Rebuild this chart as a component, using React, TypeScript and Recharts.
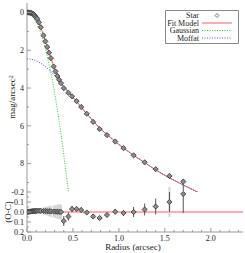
import React from 'react';
import {
  ComposedChart,
  Line,
  Scatter,
  XAxis,
  YAxis,
  ReferenceLine,
  ErrorBar,
  Legend,
  Label,
} from 'recharts';

// star profile: radius (arcsec) and surface brightness (mag/arcsec^2)
const starRadius = [
  0, 0.01, 0.02, 0.03, 0.04, 0.05, 0.06, 0.07, 0.08, 0.09, 0.1, 0.11,
  0.13, 0.15, 0.18, 0.2, 0.22, 0.24, 0.26, 0.29, 0.31, 0.33, 0.35, 0.37,
  0.4, 0.45, 0.49, 0.54, 0.59, 0.65, 0.72, 0.79, 0.87, 0.96, 1.05, 1.16,
  1.28, 1.4, 1.55, 1.7,
];
const starMag = [
  0.0, 0.0, 0.01, 0.01, 0.02, 0.04, 0.06, 0.09, 0.14, 0.2, 0.27, 0.34,
  0.52, 0.78, 1.22, 1.53, 1.83, 2.13, 2.42, 2.86, 3.12, 3.36, 3.56, 3.74,
  4.01, 4.25, 4.44, 4.69, 5.0, 5.36, 5.79, 6.17, 6.49, 6.83, 7.18, 7.56,
  7.93, 8.29, 8.65, 8.95,
];
// observed minus computed, same radii as the star points
const ocResidual = [
  0.0, 0.0, -0.003, -0.005, -0.005, -0.006, -0.008, -0.008, -0.01, -0.01, -0.01, -0.012,
  -0.012, -0.012, -0.01, -0.01, -0.008, -0.008, -0.006, -0.005, -0.004, -0.003, -0.002, 0.0,
  0.09, 0.045, -0.03, -0.03, -0.02, 0.005, 0.045, 0.06, 0.03, -0.003, 0.01, 0.0,
  -0.025, -0.055, -0.1, -0.18,
];
const ocError = [
  0.002, 0.002, 0.002, 0.003, 0.003, 0.003, 0.004, 0.004, 0.005, 0.005, 0.006, 0.006,
  0.007, 0.008, 0.009, 0.01, 0.01, 0.011, 0.012, 0.013, 0.014, 0.015, 0.016, 0.018,
  0.05, 0.04, 0.03, 0.025, 0.025, 0.02, 0.02, 0.02, 0.02, 0.025, 0.03, 0.05,
  0.06, 0.08, 0.1, 0.19,
];
const ocErrorWide = [
  0, 0, 0, 0, 0, 0, 0, 0, 0, 0.01, 0.015, 0.02,
  0.025, 0.03, 0.035, 0.04, 0.045, 0.05, 0.055, 0.06, 0.065, 0.07, 0.075, 0.075,
  0, 0, 0, 0, 0, 0, 0, 0, 0, 0, 0, 0,
  0, 0, 0.15, 0,
];

// fitted model and its two components
const fitRadius = [
  0, 0.04, 0.08, 0.12, 0.16, 0.2, 0.24, 0.28, 0.32, 0.36, 0.4, 0.45, 0.5, 0.55,
  0.6, 0.7, 0.8, 0.9, 1.0, 1.1, 1.2, 1.3, 1.4, 1.5, 1.6, 1.7, 1.8, 1.9,
];
const fitMag = [
  0.0, 0.02, 0.14, 0.43, 0.93, 1.53, 2.12, 2.71, 3.24, 3.64, 3.92, 4.2, 4.48, 4.77,
  5.08, 5.63, 6.16, 6.58, 6.99, 7.35, 7.69, 8.01, 8.33, 8.62, 8.88, 9.13, 9.37, 9.61,
];
const gaussRadius = [0, 0.05, 0.1, 0.15, 0.2, 0.25, 0.3, 0.35, 0.4, 0.45, 0.48];
const gaussMag = [0.05, 0.17, 0.52, 1.1, 1.92, 2.97, 4.25, 5.77, 7.52, 9.5, 10.8];
const moffatRadius = [
  0, 0.05, 0.1, 0.15, 0.2, 0.25, 0.3, 0.35, 0.4, 0.45, 0.5, 0.55, 0.6, 0.7, 0.8,
  0.9, 1.0, 1.1, 1.2, 1.3, 1.4, 1.5, 1.6, 1.7, 1.8, 1.9,
];
const moffatMag = [
  2.45, 2.48, 2.56, 2.69, 2.87, 3.08, 3.33, 3.61, 3.95, 4.21, 4.49, 4.78, 5.08, 5.63, 6.16,
  6.58, 6.99, 7.35, 7.69, 8.01, 8.33, 8.62, 8.88, 9.13, 9.37, 9.61,
];

const radiusTicks = [
  0, 0.1, 0.2, 0.3, 0.4, 0.5, 0.6, 0.7, 0.8, 0.9, 1.0, 1.1, 1.2, 1.3, 1.4, 1.5, 1.6,
  1.7, 1.8, 1.9, 2.0, 2.1, 2.2, 2.3,
];
const magTicks = [0, 1, 2, 3, 4, 5, 6, 7, 8, 9];
const ocTicks = [-0.2, -0.15, -0.1, -0.05, 0, 0.05, 0.1, 0.15, 0.2];

const starRows = starRadius.map((r, i) => ({ r, mag: starMag[i] }));
const ocRows = starRadius.map((r, i) => ({
  r,
  oc: ocResidual[i],
  err: ocError[i],
  errWide: ocErrorWide[i],
}));
const fitRows = fitRadius.map((r, i) => ({ r, mag: fitMag[i] }));
const gaussRows = gaussRadius.map((r, i) => ({ r, mag: gaussMag[i] }));
const moffatRows = moffatRadius.map((r, i) => ({ r, mag: moffatMag[i] }));

const FONT = "'Liberation Serif', 'Times New Roman', serif";
const FRAME = '#999';
const INK = '#222';
const RED = '#ff5a5a';
const GREEN = '#22cc22';
const BLUE = '#4646ff';
const DOT = '1 1.5';

const X_DOMAIN = [0, 2.35];
const MAG_DOMAIN = [-0.5, 9.5];
const OC_DOMAIN = [-0.2, 0.2];

// the residual panel svg starts a little above its plot so the top tick label is not cut
const RES_PAD = 8;

type Side = 'left' | 'right' | 'top' | 'bottom';

const near = (v: number, step: number) => Math.abs(v / step - Math.round(v / step)) < 1e-6;

// inward tick marks, long on labelled values
const makeTick =
  (side: Side, isMajor: (v: number) => boolean, fmt?: (v: number) => string) =>
  (props: any) => {
    const { x, y, payload } = props;
    const v = payload.value;
    const len = isMajor(v) ? 4 : 2;
    const end =
      side === 'left' ? [x + len, y] : side === 'right' ? [x - len, y] : side === 'top' ? [x, y + len] : [x, y - len];
    let text = null;
    if (fmt && isMajor(v)) {
      text =
        side === 'left' ? (
          <text x={x - 3} y={y} dy="0.35em" textAnchor="end" fontSize={8} fontFamily={FONT} fill={INK}>
            {fmt(v)}
          </text>
        ) : (
          <text x={x} y={y + 9} textAnchor="middle" fontSize={8} fontFamily={FONT} fill={INK}>
            {fmt(v)}
          </text>
        );
    }
    return (
      <g>
        <line x1={x} y1={y} x2={end[0]} y2={end[1]} stroke={FRAME} strokeWidth={1} />
        {text}
      </g>
    );
  };

const isHalf = (v: number) => near(v, 0.5);
const isEven = (v: number) => near(v, 2);
const isTenth = (v: number) => near(v, 0.1);

const Diamond = ({ cx, cy, r = 2.6, fill = '#8c8c8c', stroke = '#333' }: any) => (
  <path
    d={`M${cx},${cy - r} L${cx + r},${cy} L${cx},${cy + r} L${cx - r},${cy} Z`}
    fill={fill}
    stroke={stroke}
    strokeWidth={0.8}
  />
);

const legendItems = [
  { name: 'Star', color: '#555', marker: true, dash: undefined },
  { name: 'Fit Model', color: RED, marker: false, dash: undefined },
  { name: 'Gaussian', color: GREEN, marker: false, dash: DOT },
  { name: 'Moffat', color: BLUE, marker: false, dash: DOT },
];

const LegendBox = () => (
  <svg width={74} height={34} style={{ display: 'block', overflow: 'visible' }}>
    <path d="M0.5,0.5 H73.5 V33.5 H0.5 Z" fill="#fff" stroke="#888" strokeWidth={1} />
    {legendItems.map((it, i) => {
      const cy = 5.5 + i * 7.5;
      return (
        <g key={it.name}>
          <text x={34} y={cy} dy="0.33em" textAnchor="end" fontSize={8} fontFamily={FONT} fill={INK}>
            {it.name}
          </text>
          {it.marker ? (
            <Diamond cx={52} cy={cy} r={2} fill="none" stroke={it.color} />
          ) : (
            <line x1={37} x2={67} y1={cy} y2={cy} stroke={it.color} strokeWidth={1} strokeDasharray={it.dash} />
          )}
        </g>
      );
    })}
  </svg>
);

// rotated axis title, centred on the given point inside the chart
const RotatedTitle = ({ cx, cy, children }: any) => (
  <text
    x={cx}
    y={cy}
    dy="0.35em"
    transform={`rotate(-90, ${cx}, ${cy})`}
    textAnchor="middle"
    fontSize={9}
    fontFamily={FONT}
    fill={INK}
  >
    {children}
  </text>
);

const axisCommon = {
  tickLine: false,
  tickSize: 0,
  tickMargin: 0,
  interval: 0 as const,
  stroke: FRAME,
  allowDataOverflow: true,
};

const ProfilePanel = () => (
  <ComposedChart width={245} height={192} margin={{ top: 3, right: 2, bottom: 0, left: 0 }}>
    <XAxis
      {...axisCommon}
      dataKey="r"
      type="number"
      domain={X_DOMAIN}
      ticks={radiusTicks}
      height={0}
      tick={makeTick('bottom', isHalf)}
    />
    <XAxis
      {...axisCommon}
      xAxisId="top"
      orientation="top"
      type="number"
      domain={X_DOMAIN}
      ticks={radiusTicks}
      height={0}
      tick={makeTick('top', isHalf)}
    />
    <YAxis
      {...axisCommon}
      type="number"
      reversed
      domain={MAG_DOMAIN}
      ticks={magTicks}
      width={27}
      tick={makeTick('left', isEven, (v) => String(v))}
    >
      <Label
        content={() => (
          <RotatedTitle cx={12} cy={97}>
            mag/arcsec
            <tspan dy="-0.4em" fontSize={6}>
              2
            </tspan>
          </RotatedTitle>
        )}
      />
    </YAxis>
    <YAxis
      {...axisCommon}
      yAxisId="right"
      orientation="right"
      type="number"
      reversed
      domain={MAG_DOMAIN}
      ticks={magTicks}
      width={0}
      tick={makeTick('right', isEven)}
    />
    <Scatter
      name="Star"
      data={starRows}
      dataKey="mag"
      isAnimationActive={false}
      shape={(p: any) => <Diamond cx={p.cx} cy={p.cy} />}
    />
    <Line
      name="Fit Model"
      data={fitRows}
      dataKey="mag"
      type="monotone"
      stroke={RED}
      strokeWidth={1}
      dot={false}
      isAnimationActive={false}
    />
    <Line
      name="Gaussian"
      data={gaussRows}
      dataKey="mag"
      type="monotone"
      stroke={GREEN}
      strokeWidth={1}
      strokeDasharray={DOT}
      dot={false}
      isAnimationActive={false}
    />
    <Line
      name="Moffat"
      data={moffatRows}
      dataKey="mag"
      type="monotone"
      stroke={BLUE}
      strokeWidth={1}
      strokeDasharray={DOT}
      dot={false}
      isAnimationActive={false}
    />
    <Legend
      layout="vertical"
      align="center"
      verticalAlign="middle"
      wrapperStyle={{ left: 165, top: 10, width: 74, height: 34, zIndex: 5 }}
      content={() => <LegendBox />}
    />
  </ComposedChart>
);

const ResidualPanel = () => (
  <ComposedChart width={245} height={61 + RES_PAD} margin={{ top: RES_PAD, right: 2, bottom: 0, left: 0 }}>
    <XAxis
      {...axisCommon}
      dataKey="r"
      type="number"
      domain={X_DOMAIN}
      ticks={radiusTicks}
      height={21}
      tick={makeTick('bottom', isHalf, (v) => v.toFixed(1))}
    >
      <Label
        content={() => (
          <text x={133} y={RES_PAD + 58} textAnchor="middle" fontSize={9} fontFamily={FONT} fill={INK}>
            Radius (arcsec)
          </text>
        )}
      />
    </XAxis>
    <XAxis
      {...axisCommon}
      xAxisId="top"
      orientation="top"
      type="number"
      domain={X_DOMAIN}
      ticks={radiusTicks}
      height={0}
      tick={makeTick('top', isHalf)}
    />
    <YAxis
      {...axisCommon}
      type="number"
      reversed
      domain={OC_DOMAIN}
      ticks={ocTicks}
      width={27}
      tick={makeTick('left', isTenth, (v) => v.toFixed(1))}
    >
      <Label content={() => <RotatedTitle cx={8} cy={RES_PAD + 20}>(O-C)</RotatedTitle>} />
    </YAxis>
    <YAxis
      {...axisCommon}
      yAxisId="right"
      orientation="right"
      type="number"
      reversed
      domain={OC_DOMAIN}
      ticks={ocTicks}
      width={0}
      tick={makeTick('right', isTenth)}
    />
    <ReferenceLine y={0} stroke={RED} strokeWidth={1} />
    <Scatter
      data={ocRows}
      dataKey="oc"
      isAnimationActive={false}
      shape={(p: any) => <Diamond cx={p.cx} cy={p.cy} />}
    >
      <ErrorBar dataKey="errWide" direction="y" width={0} stroke="#d4d4d4" strokeWidth={2} />
      <ErrorBar dataKey="err" direction="y" width={0} stroke="#555" strokeWidth={1} />
    </Scatter>
  </ComposedChart>
);

export default function App() {
  return (
    <div style={{ position: 'absolute', left: 0, top: 0, width: 245, height: 253, background: '#fff' }}>
      <div style={{ position: 'absolute', left: 0, top: 0 }}>
        <ProfilePanel />
      </div>
      <div style={{ position: 'absolute', left: 0, top: 192 - RES_PAD }}>
        <ResidualPanel />
      </div>
    </div>
  );
}
